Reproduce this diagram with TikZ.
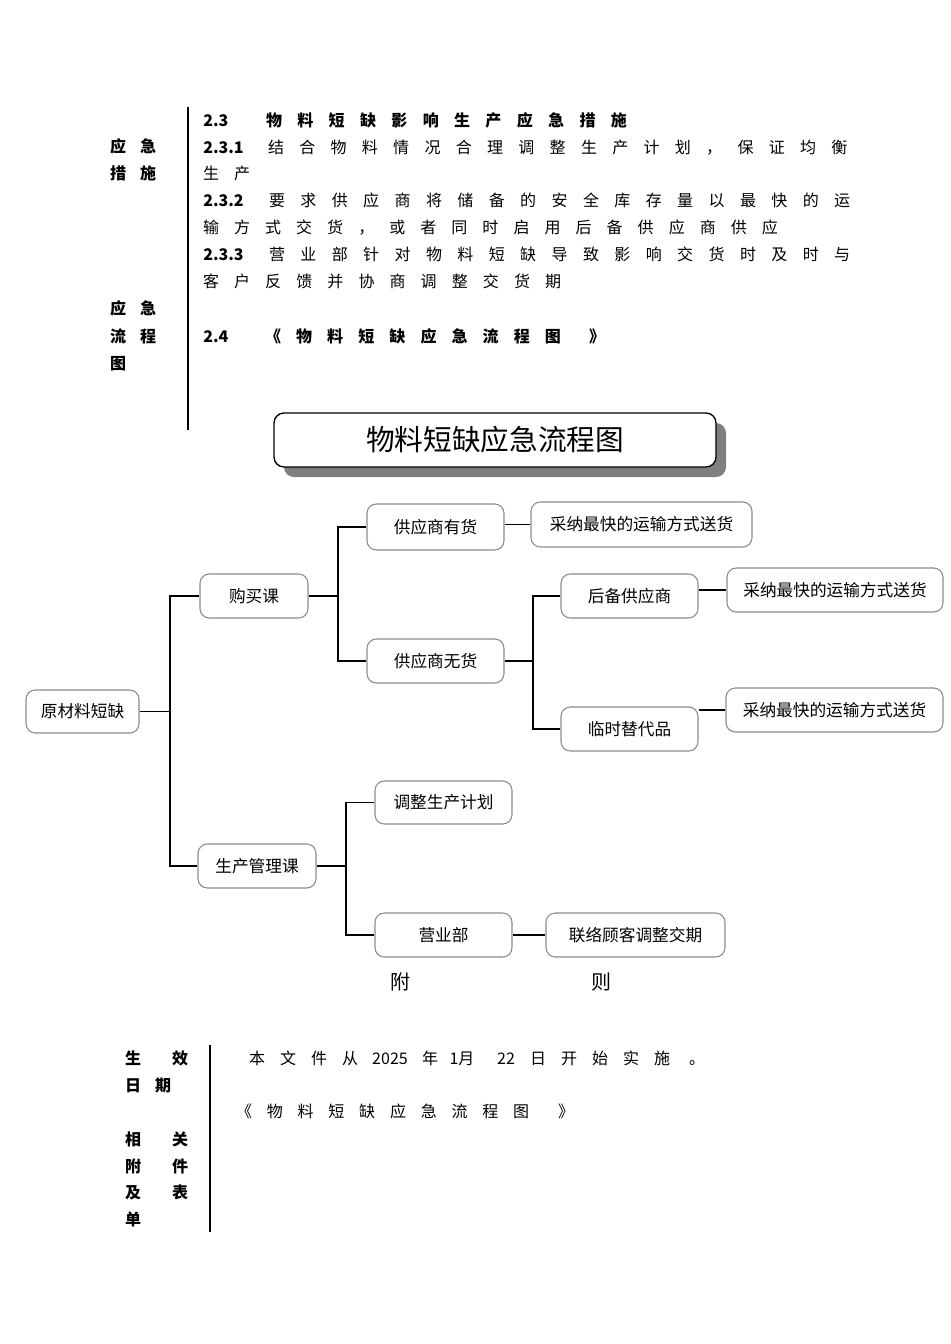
\documentclass[tikz,border=0pt]{standalone}
\usepackage{fontspec}
\setmainfont{Noto Sans CJK SC}
\newfontfamily\cjk{Noto Sans CJK SC}
\usetikzlibrary{shadows}
\definecolor{boxgray}{HTML}{8C8C8C}
\definecolor{shadowgray}{HTML}{7F7F7F}
\newcommand\spreadrow[6]{%
  \foreach \c [count=\i from 0] in {#6} {\node[#1] (#2\i) at ({#3+\i*#5},#4) {\c};}}
\begin{document}
\begin{tikzpicture}[x=0.75pt,y=-0.75pt,
  ch/.style={inner sep=0pt, text height=10.5pt, text depth=1.5pt, font=\cjk\fontsize{12}{14}\selectfont},
  chb/.style={ch, font=\cjk\bfseries\fontsize{12}{14}\selectfont},
  bx/.style 2 args={draw=boxgray, line width=0.8pt, rounded corners=7pt, inner sep=0pt,
     minimum width=#1*0.75pt, minimum height=#2*0.75pt, font=\cjk\fontsize{12.5}{15}\selectfont},
  conn/.style={line width=1pt, black},
  rule/.style={line width=2.2pt, black},
  titlebox/.style={draw=black, line width=1pt, rounded corners=7.5pt, fill=white, inner sep=0pt,
     minimum width=442*0.75pt, minimum height=54*0.75pt,
     font=\cjk\fontsize{21.5}{25}\selectfont,
     drop shadow={shadow xshift=7.5pt, shadow yshift=-7.5pt, fill=shadowgray, opacity=1}},
  big/.style={inner sep=0pt, font=\cjk\fontsize{15}{18}\selectfont}
]
\useasboundingbox (0,0) rectangle (950,1344);

% ---------- top section ----------
\coordinate (rt1) at (188,107);
\coordinate (rt2) at (188,430);
\draw[rule] (rt1) -- (rt2);

\node[chb] (la1) at (118,147) {应}; \node[chb] (la2) at (148,147) {急};
\node[chb] (la3) at (118,174) {措}; \node[chb] (la4) at (148,174) {施};
\node[chb] (lb1) at (118,309) {应}; \node[chb] (lb2) at (148,309) {急};
\node[chb] (lb3) at (118,336) {流}; \node[chb] (lb4) at (148,336) {程};
\node[chb] (lb5) at (118,363) {图};

\node[chb, anchor=west] (n23) at (203,121) {2.3};
\spreadrow{chb}{ra}{274}{121}{31.35}{物,料,短,缺,影,响,生,产,应,急,措,施}
\node[chb, anchor=west] (n231) at (203,148) {2.3.1};
\spreadrow{ch}{rb}{276}{148}{31.3}{结,合,物,料,情,况,合,理,调,整,生,产,计,划,，,保,证,均,衡}
\spreadrow{ch}{rc}{211}{174}{31.1}{生,产}
\node[chb, anchor=west] (n232) at (203,201) {2.3.2};
\spreadrow{ch}{rd}{277}{201}{31.4}{要,求,供,应,商,将,储,备,的,安,全,库,存,量,以,最,快,的,运}
\spreadrow{ch}{re}{211}{228}{31.05}{输,方,式,交,货,，,或,者,同,时,启,用,后,备,供,应,商,供,应}
\node[chb, anchor=west] (n233) at (203,255) {2.3.3};
\spreadrow{ch}{rf}{277}{255}{31.4}{营,业,部,针,对,物,料,短,缺,导,致,影,响,交,货,时,及,时,与}
\spreadrow{ch}{rg}{211}{282}{31.1}{客,户,反,馈,并,协,商,调,整,交,货,期}
\node[chb, anchor=west] (n24) at (203,336) {2.4};
\spreadrow{chb}{rh}{273}{336}{31.1}{《,物,料,短,缺,应,急,流,程,图}
\node[chb] (rhend) at (597,336) {》};

% ---------- title ----------
\node[titlebox] (title) at (495,440) {物料短缺应急流程图};

% ---------- flow chart ----------
\node[bx={113}{43}] (raw) at (82.5,711.5) {原材料短缺};
\node[bx={108}{44}] (buy) at (254,596) {购买课};
\node[bx={118}{44}] (prod) at (257,866) {生产管理课};
\node[bx={137}{46}] (has) at (435.5,527) {供应商有货};
\node[bx={137}{44}] (none) at (435.5,661) {供应商无货};
\node[bx={221}{45}] (fast1) at (641.5,524.5) {采纳最快的运输方式送货};
\node[bx={137}{44}] (backup) at (629.5,596) {后备供应商};
\node[bx={137}{44}] (temp) at (629.5,729) {临时替代品};
\node[bx={216}{44}] (fast2) at (835,590) {采纳最快的运输方式送货};
\node[bx={217}{44}] (fast3) at (834.5,710) {采纳最快的运输方式送货};
\node[bx={137}{43}] (adj) at (443.5,802.5) {调整生产计划};
\node[bx={137}{44}] (sales) at (443.5,935) {营业部};
\node[bx={179}{44}] (contact) at (635.5,935) {联络顾客调整交期};

\coordinate (j1) at (170,711.5);
\coordinate (j2) at (338,596);
\coordinate (j3) at (533,661);
\coordinate (j4) at (346,866);

\draw[conn] (raw.east) -- (j1);
\draw[conn] (j1) |- (buy.west);
\draw[conn] (j1) |- (prod.west);
\draw[conn] (buy.east) -- (j2);
\draw[conn] (j2) |- (has.west);
\draw[conn] (j2) |- (none.west);
\draw[conn] (has.east |- fast1.west) -- (fast1.west);
\draw[conn] (none.east) -- (j3);
\draw[conn] (j3) |- (backup.west);
\draw[conn] (j3) |- (temp.west);
\draw[conn] (backup.east |- fast2.west) -- (fast2.west);
\draw[conn] (temp.east |- fast3.west) -- (fast3.west);
\draw[conn] (prod.east) -- (j4);
\draw[conn] (j4) |- (adj.west);
\draw[conn] (j4) |- (sales.west);
\draw[conn] (sales.east) -- (contact.west);

\node[big] (fu) at (400,982) {附};
\node[big] (ze) at (601,982) {则};

% ---------- bottom section ----------
\coordinate (rb1) at (210,1045);
\coordinate (rb2) at (210,1232);
\draw[rule] (rb1) -- (rb2);

\node[chb] (ba1) at (133,1058) {生}; \node[chb] (ba2) at (180,1058) {效};
\node[chb] (ba3) at (133,1085) {日}; \node[chb] (ba4) at (163,1085) {期};
\node[chb] (bb1) at (133,1139) {相}; \node[chb] (bb2) at (180,1139) {关};
\node[chb] (bb3) at (133,1166) {附}; \node[chb] (bb4) at (180,1166) {件};
\node[chb] (bb5) at (133,1192) {及}; \node[chb] (bb6) at (180,1192) {表};
\node[chb] (bb7) at (133,1219) {单};

\node[ch] (d1) at (257,1058) {本};
\node[ch] (d2) at (288,1058) {文};
\node[ch] (d3) at (319,1058) {件};
\node[ch] (d4) at (350,1058) {从};
\node[ch] (d5) at (390,1058) {2025};
\node[ch] (d6) at (430,1058) {年};
\node[ch] (d7) at (462,1058) {1月};
\node[ch] (d8) at (506,1058) {22};
\node[ch] (d9) at (538,1058) {日};
\node[ch] (d10) at (569,1058) {开};
\node[ch] (d11) at (600,1058) {始};
\node[ch] (d12) at (631,1058) {实};
\node[ch] (d13) at (662,1058) {施};
\node[ch] (d14) at (697,1058) {。};

\spreadrow{ch}{e}{244}{1111}{30.8}{《,物,料,短,缺,应,急,流,程,图}
\node[ch] (eend) at (566,1111) {》};
\end{tikzpicture}
\end{document}
